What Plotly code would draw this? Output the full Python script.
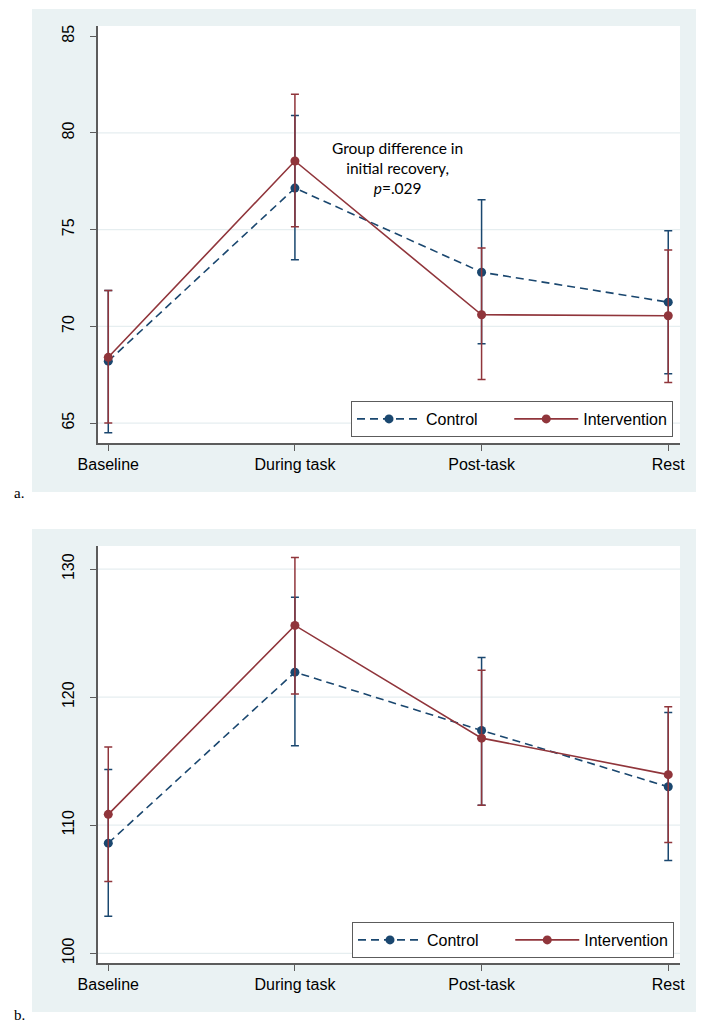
import plotly.graph_objects as go

# time points
phases = ["Baseline", "During task", "Post-task", "Rest"]

# panel a
a_control = [68.2, 77.15, 72.8, 71.25]
a_control_hi = [71.85, 80.9, 76.55, 74.95]
a_control_lo = [64.5, 73.45, 69.1, 67.55]
a_interv = [68.4, 78.55, 70.6, 70.55]
a_interv_hi = [71.85, 82.0, 74.05, 73.95]
a_interv_lo = [65.0, 75.15, 67.25, 67.1]

# panel b
b_control = [108.6, 121.95, 117.4, 113.0]
b_control_hi = [114.35, 127.8, 123.1, 118.8]
b_control_lo = [102.9, 116.2, 111.55, 107.25]
b_interv = [110.85, 125.6, 116.8, 113.95]
b_interv_hi = [116.1, 130.9, 122.1, 119.25]
b_interv_lo = [105.6, 120.25, 111.55, 108.65]

a_ticks = [65, 70, 75, 80, 85]
b_ticks = [100, 110, 120, 130]

NAVY = "#1a476f"
MAROON = "#90353b"
PANEL_BG = "#eaf2f3"
GRID = "#e6eef0"
AXIS_COL = "#5c5c5c"

# the page body has an 8px margin, so the figure is 8px smaller and shifted
OFF = 8
W, H = 707 - OFF, 1029 - OFF


def fx(px):
    return (px - OFF) / W


def fy(py):
    return 1 - (py - OFF) / H


fig = go.Figure()


def add_series(y, hi, lo, name, color, dash, xaxis, yaxis, legend):
    fig.add_trace(go.Scatter(
        x=phases, y=y, name=name, mode="lines+markers",
        line=dict(color=color, width=1.6, dash=dash),
        marker=dict(color=color, size=9),
        error_y=dict(type="data", symmetric=False,
                     array=[h - v for h, v in zip(hi, y)],
                     arrayminus=[v - l for v, l in zip(y, lo)],
                     color=color, thickness=1.5, width=4),
        xaxis=xaxis, yaxis=yaxis, legend=legend,
    ))


# padding after "Control" widens the legend entry like Stata's key
pad = "&nbsp;" * 6
add_series(a_control, a_control_hi, a_control_lo, "Control" + pad, NAVY, "8px,5px", "x", "y", "legend")
add_series(a_interv, a_interv_hi, a_interv_lo, "Intervention", MAROON, "solid", "x", "y", "legend")
add_series(b_control, b_control_hi, b_control_lo, "Control" + pad, NAVY, "8px,5px", "x2", "y2", "legend2")
add_series(b_interv, b_interv_hi, b_interv_lo, "Intervention", MAROON, "solid", "x2", "y2", "legend2")

xdom = [fx(98), fx(680)]
xcommon = dict(domain=xdom, range=[-0.055, 3.063], showline=True, linecolor=AXIS_COL, linewidth=1.5,
               ticks="outside", ticklen=6, tickcolor=AXIS_COL, showgrid=False, zeroline=False,
               automargin=False, tickfont=dict(family="Liberation Sans", size=16, color="black"))
ycommon = dict(showline=True, linecolor=AXIS_COL, linewidth=1.5, ticks="outside", ticklen=6,
               tickcolor=AXIS_COL, showgrid=False, zeroline=False, ticklabelstandoff=10,
               automargin=False, tickangle=-90,
               tickfont=dict(family="Liberation Sans", size=16, color="black"))

legend_common = dict(orientation="h", bgcolor="white", bordercolor=AXIS_COL, borderwidth=1,
                     font=dict(family="Liberation Sans", size=16, color="black"),
                     itemwidth=64, xanchor="right", yanchor="bottom")


def rect(x0, y0, x1, y1, color):
    return dict(type="rect", xref="paper", yref="paper", x0=fx(x0), x1=fx(x1), y0=fy(y1), y1=fy(y0),
                fillcolor=color, line=dict(width=0), layer="below")


def grid(yref, vals):
    return [dict(type="line", xref="x domain" if yref == "y" else "x2 domain", yref=yref,
                 x0=0, x1=1, y0=v, y1=v, line=dict(color=GRID, width=1.2), layer="below")
            for v in vals]


shapes = [
    rect(32, 9, 696, 492, PANEL_BG),
    rect(32, 529, 696, 1012, PANEL_BG),
    rect(98, 26, 680, 443, "white"),
    rect(98, 546, 680, 963.3, "white"),
]
# Stata leaves out the gridline at the top tick of panel a
shapes += grid("y", a_ticks[:-1]) + grid("y2", b_ticks)

fig.update_layout(
    width=W, height=H,
    margin=dict(l=0, r=0, t=0, b=0),
    paper_bgcolor="white", plot_bgcolor="white",
    xaxis=dict(xcommon, anchor="y"),
    yaxis=dict(ycommon, domain=[fy(443), fy(26)], range=[63.97, 85.53], tickvals=a_ticks, anchor="x"),
    xaxis2=dict(xcommon, anchor="y2"),
    yaxis2=dict(ycommon, domain=[fy(963.3), fy(546)], range=[99.22, 131.8], tickvals=b_ticks, anchor="x2"),
    legend=dict(legend_common, x=fx(673), y=fy(437)),
    legend2=dict(legend_common, x=fx(674), y=fy(958)),
    shapes=shapes,
    annotations=[
        dict(x=1.549, y=78.17, xref="x", yref="y", showarrow=False,
             text="Group difference in<br>initial recovery,<br><i>p</i>=.029",
             font=dict(family="Lato", size=15.5, color="black")),
        dict(x=fx(12), y=fy(493), xref="paper", yref="paper", showarrow=False,
             xanchor="left", yanchor="middle",
             text="a.", font=dict(family="Liberation Serif", size=15, color="black")),
        dict(x=fx(12), y=fy(1015), xref="paper", yref="paper", showarrow=False,
             xanchor="left", yanchor="middle",
             text="b.", font=dict(family="Liberation Serif", size=15, color="black")),
    ],
)

fig.write_html("out.html")
